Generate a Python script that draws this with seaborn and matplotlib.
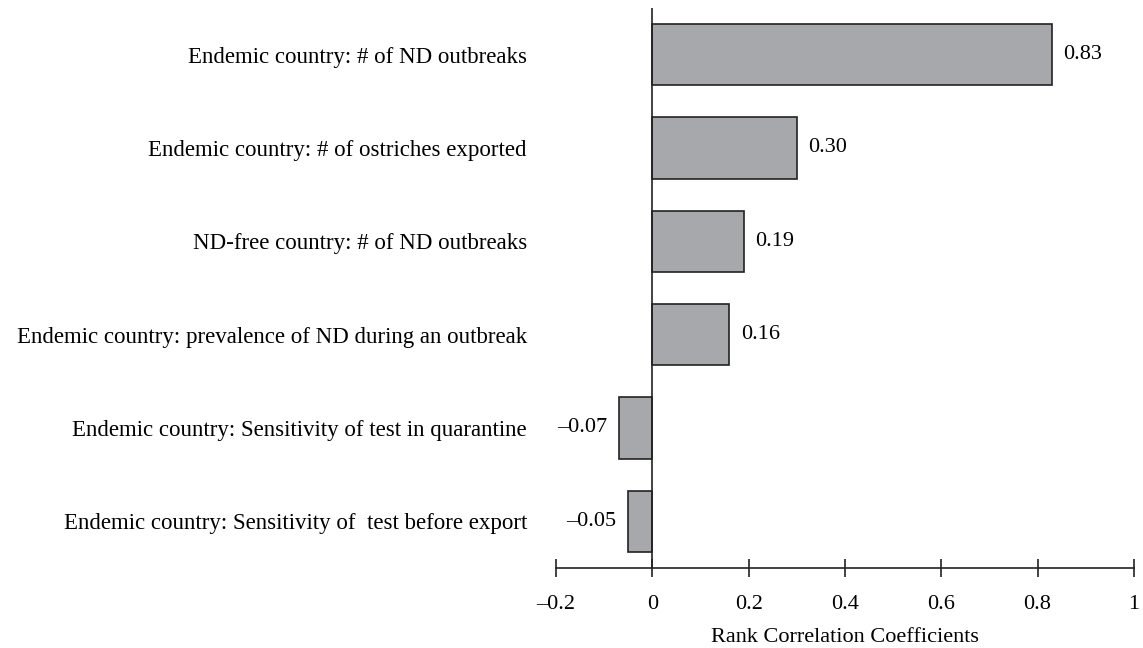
import matplotlib
matplotlib.use("Agg")
import matplotlib.pyplot as plt
import pandas as pd
import seaborn as sns

# Chart data
factors = [
    "Endemic country: # of ND outbreaks",
    "Endemic country: # of ostriches exported",
    "ND-free country: # of ND outbreaks",
    "Endemic country: prevalence of ND during an outbreak",
    "Endemic country: Sensitivity of test in quarantine",
    "Endemic country: Sensitivity of  test before export",
]
coefficients = [0.83, 0.30, 0.19, 0.16, -0.07, -0.05]
x_ticks = [-0.2, 0, 0.2, 0.4, 0.6, 0.8, 1]
x_tick_labels = ["\u20130.2", "0", "0.2", "0.4", "0.6", "0.8", "1"]

df = pd.DataFrame({"factor": factors, "coef": coefficients})

sns.set_style("white")
plt.rcParams["font.family"] = ["Liberation Serif", "DejaVu Serif"]
plt.rcParams["text.color"] = "black"
plt.rcParams["axes.labelcolor"] = "black"
plt.rcParams["xtick.color"] = "#222222"
plt.rcParams["xtick.labelcolor"] = "black"
plt.rcParams["ytick.labelcolor"] = "black"

fig = plt.figure(figsize=(11.43, 6.48), dpi=100)
ax = fig.add_axes([0.4865, 0.1235, 0.5055, 0.8642])

sns.barplot(data=df, x="coef", y="factor", orient="h", color="#a7a8ab",
            saturation=1, edgecolor="#222222", linewidth=1.2, width=0.66, ax=ax)

ax.set_xlim(-0.2, 1.0)
ax.set_ylim(5.5, -0.5)

# vertical zero line instead of the left spine
for side in ["left", "right", "top"]:
    ax.spines[side].set_visible(False)
ax.spines["bottom"].set_color("#222222")
ax.spines["bottom"].set_linewidth(1.2)
ax.axvline(0, color="#222222", linewidth=1.2)

ax.set_xticks(x_ticks)
ax.set_xticklabels(x_tick_labels, fontsize=16)
ax.tick_params(axis="x", bottom=True, direction="inout", length=13, width=1.2, pad=13)
ax.tick_params(axis="y", left=False, length=0, pad=21, labelsize=16.5)

# value labels next to bars
for i, v in enumerate(coefficients):
    txt = f"{v:.2f}".replace("-", "\u2013")
    if v >= 0:
        ax.text(v + 0.024, i, txt, va="center", ha="left", fontsize=16)
    else:
        ax.text(v - 0.024, i, txt, va="center", ha="right", fontsize=16)

ax.set_ylabel("")
ax.set_xlabel("Rank Correlation Coefficients", fontsize=16, labelpad=10)

fig.savefig("out.png", dpi=100, facecolor="white")
